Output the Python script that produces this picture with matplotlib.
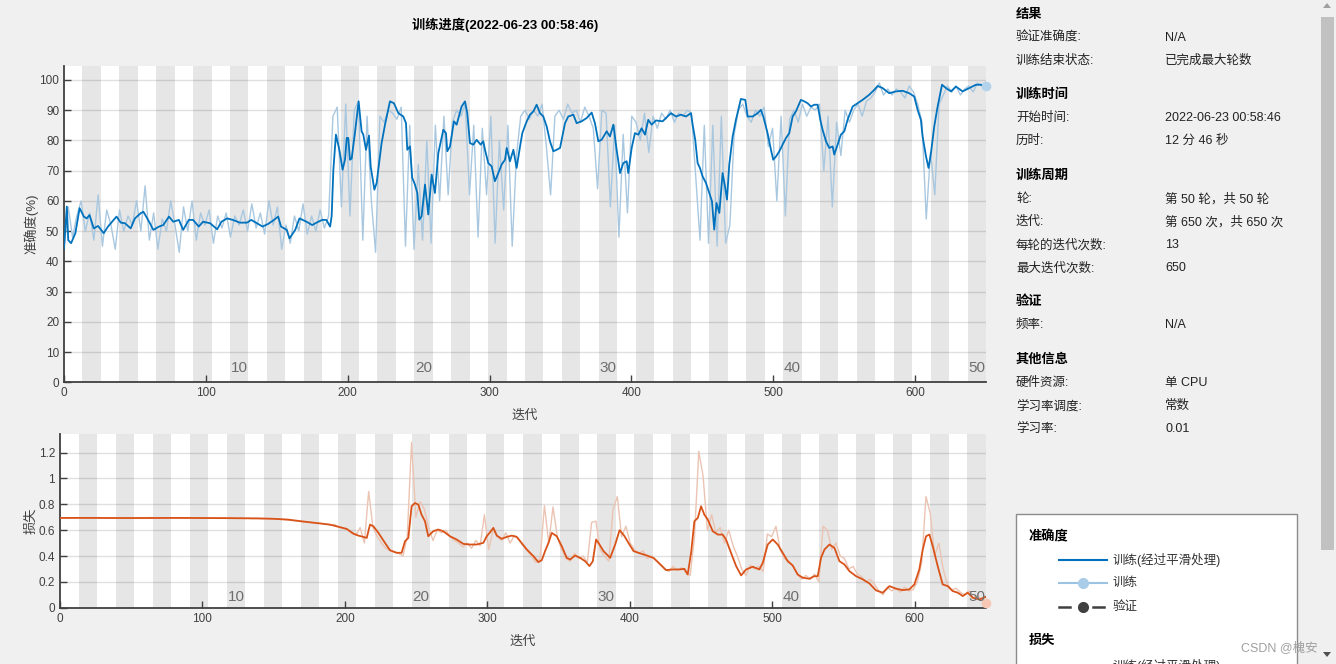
import numpy as np
import matplotlib.pyplot as plt
from matplotlib.lines import Line2D
from matplotlib.patches import Rectangle, Polygon

plt.rcParams['font.family'] = ['Liberation Sans', 'Noto Sans CJK SC', 'DejaVu Sans']

# ---- data ----
n_epochs = 50
iters_per_epoch = 13
max_iter = 650

# smoothed accuracy (iteration, %)
acc_sm_it = [0, 2, 3, 5, 8, 10, 11, 14, 16, 18, 21, 24, 28, 31, 35, 37, 40, 43, 47, 50, 54, 56, 60, 63,
             67, 70, 74, 77, 81, 84, 88, 91, 95, 98, 103, 108, 111, 115, 119, 124, 129, 132, 136, 140,
             144, 148, 151, 153, 157, 159, 163, 166, 171, 175, 178, 182, 185, 187.6, 188.7, 189.9,
             191.7, 194.1, 196.4, 198.1, 199.3, 200.4, 201.6, 202.8, 205.1, 207.7, 209.8, 211, 212.9,
             215, 216.2, 218.8, 220.4, 223.9, 226.3, 229.8, 232.6, 235.7, 239.2, 241.1, 242, 243.9,
             245.5, 247.4, 249.1, 250.5, 252.1, 254.5, 256.8, 259.2, 261.5, 263.9, 267.4, 269.3, 270.2,
             272.1, 274.9, 276.8, 280.3, 282.7, 284.3, 286.2, 288.6, 290.9, 293.7, 295.6, 296.8, 299.1,
             301.5, 303.8, 306.2, 308.5, 310.9, 312.1, 314.4, 316.8, 319.1, 321.5, 323.1, 326.2, 328.5,
             330.9, 333.2, 335.6, 337.9, 340.3, 342.6, 345, 347.3, 349.7, 353.2, 355.5, 359.1, 361.4,
             364.9, 368.5, 372, 374.3, 376.7, 379, 382.6, 384.9, 387.3, 389.6, 392, 394.3, 396.7, 397.8,
             400.2, 402.5, 404.9, 407.2, 409.6, 411.9, 414.3, 417.3, 422, 425.5, 427.9, 431.4, 434.9,
             438.5, 442, 443.2, 445, 446.7, 448.3, 450.2, 452.6, 454.9, 456.8, 458.4, 460, 462, 464.3,
             466, 467.4, 469, 471.4, 473.7, 477.2, 480.3, 482, 485.5, 489, 491.3, 493, 496, 498.4, 500,
             502, 504.3, 506.6, 509, 511.3, 513.7, 516, 519.5, 521.9, 524.2, 526.6, 529, 531.3, 533.2,
             534.8, 537.2, 539.5, 541.9, 543, 545.4, 547.7, 550.1, 552.4, 556, 559.5, 563, 567.7, 571.2,
             573.6, 577.1, 581.8, 586.5, 591.2, 595.9, 599.4, 601.8, 604.1, 605.3, 607.7, 609.5, 611.2,
             613.5, 615.9, 619, 621.8, 625.3, 628.8, 633.5, 638.2, 642.9, 646.4, 650]
acc_sm = [44.3, 58.1, 47, 46, 49.3, 54.8, 57.6, 54.8, 54.2, 55.3, 50.9, 51.7, 49.3, 51.5, 53.7, 54.8,
          52.8, 52.6, 50.9, 54.2, 55.9, 56.4, 53.1, 50.4, 51.5, 52, 54.8, 53.1, 53.7, 50.4, 53.7, 53.7,
          51.5, 53.1, 52.6, 50.6, 53.1, 54.2, 53.7, 52.8, 52.8, 53.7, 52.6, 51.5, 52.4, 53.7, 54.8, 51.5,
          50.4, 47.6, 50.4, 54.2, 53.1, 52, 52.8, 53.7, 53.7, 51.5, 55, 70.3,
          81.9, 76.9, 70.3, 73.6, 80.8, 80.8, 73.6, 74, 82.4, 92.9, 83, 81.9, 76.9,
          81.6, 71.4, 63.7, 65.9, 79.1, 85.2, 92.9, 92.3, 89, 87.9, 85.7, 76.9, 78,
          67.6, 65.4, 62.6, 53.8, 54.9, 65.4, 55.5, 68.7, 62.6, 75.8, 83.5, 82.4, 76.4,
          78, 86.3, 85.2, 91.2, 92.9, 89, 79.1, 78.6, 80.2, 78.6, 79.7, 76.9, 72.5,
          71.4, 66.5, 69.2, 72, 73.6, 77.5, 73.1, 76.9, 70.9, 78, 82.4, 86.3, 88.5,
          89.6, 91.8, 89, 87.9, 84.6, 79.7, 76.4, 76.9, 77.5, 85.7, 87.9, 88.5, 85.7,
          86.3, 87.4, 89.2, 85.7, 79.7, 80.2, 83, 81.3, 85.2, 76.9, 69.2, 72.5, 73.1, 69.2,
          77.5, 82.4, 81.9, 84, 81.9, 86.8, 85.2, 86.6, 86.3, 87.9, 89, 87.9, 88.5,
          87.9, 89, 85.2, 80.2, 72.5, 70.9, 68.1, 65.9, 62.6, 59.9, 50.5, 59.3, 56, 69.2,
          64.8, 60.4, 72, 81.3, 86.8, 93.7, 93.4, 87.9, 87.9, 89, 90.1, 87.9, 82.4, 76.9, 73.6,
          74.7, 76.4, 78.6, 80.8, 82.4, 87.9, 89.6, 93.4, 92.9, 92.3, 91.2, 91.8, 91.8, 86.8,
          83.5, 79.7, 77.5, 78, 75.3, 78.6, 81.9, 83, 86.8, 91.2, 92.3, 93.4, 95.1, 96.7,
          98, 97.3, 95.6, 96.2, 96.4, 95.6, 94.5, 90.1, 86.8, 81.3, 74.7, 70.9, 75.8,
          84.6, 91.2, 98.4, 97.3, 96.2, 97.8, 96.2, 97.3, 98.4, 98.4, 97.8]

# raw accuracy, one value every 3 iterations (rows of 10)
acc_raw = [44, 58, 48, 55, 60, 50, 56, 47, 62, 45,
           57, 52, 44, 57, 50, 55, 52, 60, 50, 65,
           47, 56, 44, 54, 50, 60, 52, 43, 58, 50,
           60, 47, 56, 52, 57, 46, 55, 51, 56, 48,
           55, 52, 57, 50, 59, 51, 56, 49, 60, 52,
           58, 44, 52, 46, 55, 50, 59, 49, 55, 50,
           57, 51, 55, 88, 91, 58, 92, 55, 90, 93,
           47, 88, 60, 43, 88, 86, 90, 89, 87, 91,
           45, 85, 44, 72, 47, 80, 46, 85, 60, 88,
           62, 86, 90, 88, 92, 62, 85, 48, 84, 62,
           88, 46, 80, 57, 85, 45, 75, 88, 90, 87,
           90, 88, 92, 78, 62, 88, 90, 87, 92, 89,
           90, 86, 91, 88, 84, 64, 90, 89, 58, 85,
           48, 82, 56, 88, 86, 80, 89, 76, 88, 84,
           89, 87, 90, 86, 89, 88, 90, 89, 68, 47,
           85, 46, 85, 45, 88, 46, 52, 82, 90, 92,
           88, 86, 90, 88, 91, 78, 84, 60, 88, 55,
           87, 90, 86, 92, 88, 91, 90, 92, 70, 88,
           58, 86, 75, 90, 86, 90, 92, 88, 93, 94,
           96, 99, 95, 97, 95, 97, 96, 94, 98, 96,
           92, 86, 54, 76, 62, 92, 95, 98, 96, 98,
           95, 97, 98, 96, 99, 98, 98]

# smoothed loss (iteration, value)
loss_sm_it = [0, 20, 40, 60, 80, 100, 120, 140, 150, 160, 170, 180, 182.5, 189.5, 196.5, 201.2, 205.9,
              209.4, 212.9, 215.3, 217.6, 220, 223.5, 228.1, 231.6, 236.3, 239.8, 242.2, 244.5, 246.8,
              249.2, 251.5, 253.8, 256.2, 258.5, 262, 265.5, 269, 273.7, 278.4, 283.1, 287.8, 292.5,
              297.2, 299.5, 301.9, 304.2, 306.6, 310.1, 313.6, 317.1, 320.6, 323, 327.7, 332.3, 335.8,
              338.2, 340.5, 342.9, 345.2, 348.7, 352.2, 355.7, 358.1, 361.6, 365.1, 368.6, 371.7, 374,
              376.3, 378.7, 381.5, 386.2, 389.7, 392.8, 396, 399, 402.6, 407.3, 412, 416.6, 421.9,
              425.4, 430.1, 434.8, 438.3, 440.6, 443, 445.3, 447.7, 450, 452.3, 454.7, 458.2, 461.7,
              465.2, 467.5, 471, 474.6, 478.1, 481.6, 486.2, 490.9, 493.3, 496.8, 500.3, 503.8, 507.3,
              510.8, 514.3, 517.8, 521.4, 526, 529.5, 531.9, 534.2, 536.6, 540.1, 543.6, 547.1, 550.6,
              554.1, 558.8, 563.5, 568.1, 572.8, 577.5, 582.2, 586.9, 591.5, 596.2, 599.7, 603.2, 605.6,
              607.9, 610.3, 612.6, 616.1, 619.6, 623.1, 626.6, 630.2, 633.7, 637.2, 640.7, 645.4, 650]
loss_sm = [0.695, 0.695, 0.694, 0.694, 0.695, 0.694, 0.693, 0.691, 0.688, 0.682, 0.668, 0.655, 0.651,
           0.643, 0.623, 0.61, 0.574, 0.558, 0.548, 0.54, 0.643, 0.63, 0.579, 0.502, 0.445, 0.425,
           0.425, 0.515, 0.54, 0.785, 0.81, 0.798, 0.72, 0.669, 0.553, 0.592, 0.605, 0.592, 0.553,
           0.528, 0.494, 0.489, 0.489, 0.502, 0.553, 0.584, 0.618, 0.558, 0.533, 0.548, 0.558, 0.548,
           0.515, 0.45, 0.399, 0.353, 0.368, 0.438, 0.502, 0.579, 0.553, 0.476, 0.386, 0.373, 0.404,
           0.386, 0.36, 0.322, 0.36, 0.528, 0.489, 0.438, 0.386, 0.489, 0.6, 0.558, 0.502, 0.438,
           0.42, 0.404, 0.385, 0.33, 0.291, 0.296, 0.296, 0.301, 0.257, 0.425, 0.669, 0.695, 0.785,
           0.72, 0.682, 0.592, 0.566, 0.566, 0.528, 0.425, 0.322, 0.25, 0.296, 0.317, 0.296, 0.347,
           0.489, 0.528, 0.489, 0.425, 0.36, 0.327, 0.257, 0.232, 0.224, 0.244, 0.244, 0.386, 0.45,
           0.489, 0.463, 0.36, 0.335, 0.283, 0.244, 0.219, 0.188, 0.134, 0.116, 0.167, 0.147, 0.136,
           0.142, 0.18, 0.296, 0.45, 0.553, 0.566, 0.476, 0.322, 0.18, 0.167, 0.129, 0.116, 0.09,
           0.116, 0.077, 0.064, 0.085]

# raw loss, one value every 3 iterations (rows of 10)
loss_raw = [0.696, 0.694, 0.695, 0.693, 0.697, 0.694, 0.695, 0.696, 0.693, 0.698,
            0.694, 0.695, 0.693, 0.696, 0.694, 0.695, 0.697, 0.693, 0.694, 0.696,
            0.692, 0.698, 0.695, 0.694, 0.696, 0.693, 0.695, 0.697, 0.694, 0.695,
            0.693, 0.696, 0.694, 0.695, 0.693, 0.696, 0.694, 0.692, 0.695, 0.693,
            0.694, 0.691, 0.693, 0.690, 0.692, 0.689, 0.691, 0.688, 0.690, 0.686,
            0.688, 0.684, 0.682, 0.678, 0.675, 0.672, 0.668, 0.665, 0.662, 0.658,
            0.655, 0.652, 0.648, 0.640, 0.645, 0.625, 0.615, 0.605, 0.575, 0.56,
            0.62, 0.50, 0.90, 0.62, 0.55, 0.50, 0.46, 0.44, 0.43, 0.42,
            0.40, 0.55, 1.28, 0.70, 0.82, 0.76, 0.62, 0.52, 0.60, 0.58,
            0.60, 0.55, 0.52, 0.50, 0.47, 0.50, 0.46, 0.52, 0.48, 0.72,
            0.45, 0.60, 0.55, 0.52, 0.58, 0.50, 0.56, 0.53, 0.48, 0.44,
            0.40, 0.35, 0.38, 0.79, 0.50, 0.78, 0.55, 0.45, 0.38, 0.36,
            0.42, 0.38, 0.40, 0.35, 0.66, 0.67, 0.45, 0.40, 0.36, 0.76,
            0.86, 0.55, 0.63, 0.50, 0.45, 0.42, 0.44, 0.38, 0.40, 0.37,
            0.33, 0.30, 0.28, 0.32, 0.29, 0.31, 0.27, 0.25, 0.55, 1.21,
            1.02, 0.60, 0.72, 0.58, 0.62, 0.50, 0.60, 0.48, 0.40, 0.30,
            0.25, 0.33, 0.30, 0.32, 0.28, 0.57, 0.55, 0.63, 0.45, 0.38,
            0.36, 0.32, 0.26, 0.22, 0.25, 0.22, 0.26, 0.20, 0.63, 0.60,
            0.45, 0.50, 0.40, 0.38, 0.30, 0.32, 0.26, 0.24, 0.20, 0.22,
            0.18, 0.13, 0.10, 0.16, 0.13, 0.15, 0.12, 0.16, 0.13, 0.14,
            0.20, 0.35, 0.86, 0.73, 0.40, 0.50, 0.30, 0.18, 0.14, 0.15,
            0.12, 0.10, 0.13, 0.08, 0.09, 0.06, 0.04]

epoch_marks = [10, 20, 30, 40, 50]

info_labels = ['结果', '验证准确度:', '训练结束状态:',
               '训练时间', '开始时间:', '历时:',
               '训练周期', '轮:', '迭代:', '每轮的迭代次数:', '最大迭代次数:',
               '验证', '频率:',
               '其他信息', '硬件资源:', '学习率调度:', '学习率:']
info_values = ['', 'N/A', '已完成最大轮数',
               '', '2022-06-23 00:58:46', '12 分 46 秒',
               '', '第 50 轮，共 50 轮', '第 650 次，共 650 次', '13', '650',
               '', 'N/A',
               '', '单 CPU', '常数', '0.01']
info_y = [15, 38, 61, 95, 118, 141, 176, 199, 222, 245, 268, 302, 325, 360, 383, 406, 429]

title = '训练进度(2022-06-23 00:58:46)'

# ---- figure ----
W, H = 1336, 664
fig = plt.figure(figsize=(W / 100, H / 100), dpi=100, facecolor='#f0f0f0')

ax1 = fig.add_axes([64 / W, 1 - 382.3 / H, 922 / W, 316.6 / H])
ax2 = fig.add_axes([60 / W, 1 - 607.7 / H, 926 / W, 173.4 / H])

c_acc, c_acc_raw = '#0072BD', '#a9c8e0'
c_loss, c_loss_raw = '#D95319', '#ebc4b3'
grey = '#404040'

raw_x = np.linspace(0, max_iter, len(acc_raw))
raw_x2 = np.linspace(0, max_iter, len(loss_raw))

for ax in (ax1, ax2):
    for k in range(1, n_epochs, 2):
        ax.axvspan(k * iters_per_epoch, (k + 1) * iters_per_epoch, color='#e6e6e6', lw=0, zorder=0.2)
    ax.set_xlim(0, max_iter)
    ax.set_xticks(range(0, max_iter, 100))
    ax.grid(axis='y', color='black', alpha=0.12, lw=1)
    for s in ('top', 'right'):
        ax.spines[s].set_visible(False)
    for s in ('left', 'bottom'):
        ax.spines[s].set_color(grey)
        ax.spines[s].set_linewidth(1.3)
    ax.tick_params(direction='in', length=5, width=1, color=grey, labelcolor=grey, labelsize=8.5)

ax1.plot(raw_x, acc_raw, color=c_acc_raw, lw=1, zorder=2)
ax1.plot(acc_sm_it, acc_sm, color=c_acc, lw=1.3, zorder=3)
ax1.plot(raw_x[-1], acc_raw[-1], 'o', color='#b3d3ec', ms=7, mec='none', zorder=4, clip_on=False)
ax1.set_ylim(0, 104.7)
ax1.set_yticks(range(0, 101, 10))

ax2.plot(raw_x2, loss_raw, color=c_loss_raw, lw=1, zorder=2)
ax2.plot(loss_sm_it, loss_sm, color=c_loss, lw=1.3, zorder=3)
ax2.plot(raw_x2[-1], loss_raw[-1], 'o', color='#f6c7b4', ms=7, mec='none', zorder=4, clip_on=False)
ax2.set_ylim(0, 1.342)
ax2.set_yticks(np.arange(0, 1.21, 0.2))
ax2.yaxis.set_major_formatter(plt.FuncFormatter(lambda v, p: f'{v:g}'))

for ax, yl, yy, ly in ((ax1, '准确度(%)', 0.046, -0.028), (ax2, '损失', 0.063, -0.024)):
    for e in epoch_marks:
        ax.text((e - 0.5) * iters_per_epoch, yy, str(e), transform=ax.get_xaxis_transform(),
                ha='center', va='center', fontsize=11, color='#6e6e6e', clip_on=True, zorder=5)
    ax.set_ylabel(yl, fontsize=9.5, color=grey)
    ax.yaxis.set_label_coords(ly, 0.5)
    ax.set_xlabel('迭代', fontsize=9.5, color=grey)
ax1.xaxis.set_label_coords(0.5, -0.088)
ax2.xaxis.set_label_coords(0.5, -0.163)

fig.text(505 / W, 1 - 25 / H, title, ha='center', va='center', fontsize=9.5, fontweight='bold')

# right information panel
for lab, val, y in zip(info_labels, info_values, info_y):
    bold = val == ''
    fig.text(1016 / W, 1 - y / H, lab, ha='left', va='center', fontsize=9 if not bold else 9.5,
             fontweight='bold' if bold else 'normal', color='black' if bold else '#222222')
    if val:
        fig.text(1165 / W, 1 - y / H, val, ha='left', va='center', fontsize=9, color='#222222')

# legend box
fig.add_artist(Rectangle((1016 / W, -0.05), 281 / W, (664 - 514) / H + 0.05, transform=fig.transFigure,
                         facecolor='white', edgecolor='#8c8c8c', lw=1, zorder=1))
fig.text(1029 / W, 1 - 537 / H, '准确度', fontsize=9.5, fontweight='bold', va='center', zorder=2)
fig.text(1029 / W, 1 - 641 / H, '损失', fontsize=9.5, fontweight='bold', va='center', zorder=2)
fx = [1059 / W, 1107 / W]
fig.add_artist(Line2D(fx, [1 - 560 / H] * 2, color=c_acc, lw=1.5, transform=fig.transFigure, zorder=2))
fig.add_artist(Line2D(fx, [1 - 583 / H] * 2, color='#9dc3e3', lw=1.5, transform=fig.transFigure, zorder=2))
fig.add_artist(Line2D([1083 / W], [1 - 583 / H], marker='o', ms=8, color='#a9cde9', mec='none',
                      transform=fig.transFigure, zorder=3))
fig.add_artist(Line2D([1059 / W, 1070 / W], [1 - 607 / H] * 2, color=grey, lw=1.8, transform=fig.transFigure, zorder=2))
fig.add_artist(Line2D([1093 / W, 1104 / W], [1 - 607 / H] * 2, color=grey, lw=1.8, transform=fig.transFigure, zorder=2))
fig.add_artist(Line2D([1083 / W], [1 - 607 / H], marker='o', ms=8, color=grey, mec='none',
                      transform=fig.transFigure, zorder=3))
for y, lab in ((560, '训练(经过平滑处理)'), (583, '训练'), (607, '验证'), (666, '训练(经过平滑处理)')):
    fig.text(1113 / W, 1 - y / H, lab, fontsize=9, va='center', color='#333333', zorder=2)

# scroll bar and watermark
fig.add_artist(Rectangle((1321 / W, 1 - 550 / H), 13 / W, 533 / H, transform=fig.transFigure,
                         facecolor='#c1c1c1', lw=0))
fig.add_artist(Polygon([[1323 / W, 1 - 8 / H], [1331 / W, 1 - 8 / H], [1327 / W, 1 - 3 / H]],
                       closed=True, transform=fig.transFigure, facecolor='#a0a0a0', lw=0))
fig.add_artist(Polygon([[1323 / W, 1 - 652 / H], [1331 / W, 1 - 652 / H], [1327 / W, 1 - 657 / H]],
                       closed=True, transform=fig.transFigure, facecolor='#505050', lw=0))
fig.text(1318 / W, 1 - 648 / H, 'CSDN @槐安', ha='right', va='center', fontsize=9, color='#a0a0a0', zorder=4)

fig.savefig('out.png', dpi=100, facecolor=fig.get_facecolor())
